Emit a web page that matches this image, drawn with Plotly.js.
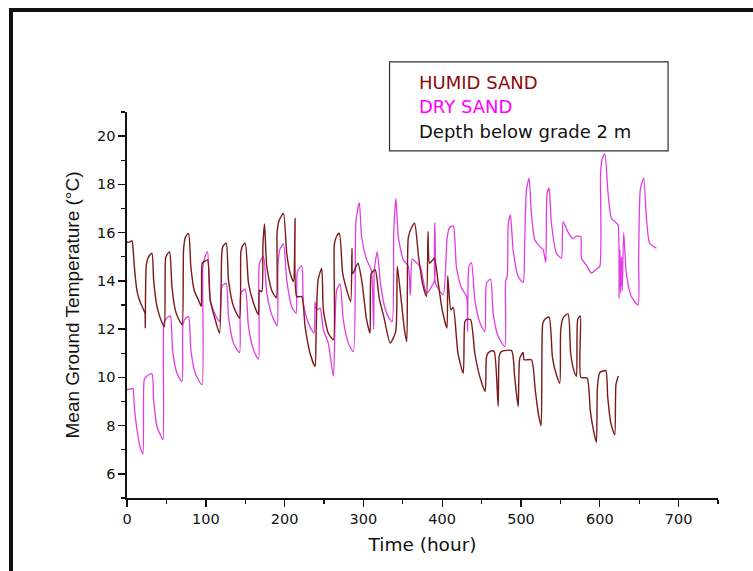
<!DOCTYPE html>
<html>
<head>
<meta charset="utf-8">
<script src="https://cdn.plot.ly/plotly-3.0.1.min.js"></script>
<style>
  html, body { margin: 0; padding: 0; background: #ffffff; width: 753px; height: 571px; overflow: hidden; }
  #frame { position: absolute; left: 9px; top: 8px; width: 800px; height: 620px;
           border-top: 4px solid #111; border-left: 4px solid #111; }
  #chart { position: absolute; left: 0; top: 0; width: 753px; height: 571px; }
</style>
</head>
<body>
<div id="frame"></div>
<div id="chart"></div>
<script>
// ---- Data ----
const humidTime = [0,4,6.3,8,9.3,12.6,16.9,21.1,22.8,23.2,
  24.5,27.4,31.6,33.8,38,42.2,46.4,47.5,
  49,51,54,57,61.2,65,68.4,70.1,
  71.8,74,78.1,81,85.3,90.8,94.2,
  95.4,98,102.2,105.6,111.9,117.4,
  120.4,122,125.9,128.8,135.2,142.8,
  144.5,146.5,150,154.2,160.5,166.8,
  168.1,171,172.5,174.5,177.4,183.7,189.5,
  190.5,193,198.5,202.7,207,211.2,
  213.3,215.4,221.7,226,232.3,238.6,
  239.9,242.5,247.1,249.2,255.5,261.9,
  263.1,266,269.5,273.7,278.8,283.8,
  285.5,286.5,293,298,304,308.4,
  310,315,320,326,334,341,
  343,347,352,355,
  357,361,365,370,375,380,
  382,384,390,395,400,406,
  407,411,414,420,426.7,
  428.7,431,436,441.4,448,454.5,
  456,458,462.5,466,471,
  472.5,475,488,492,496.4,
  498.5,502.7,504,513.2,518,522,525.5,
  527.5,530,535.6,540,545,549.2,
  550.5,554,559.7,563,567,570.3,
  572,575.3,576,583.8,588,592,595.6,
  597,600,607.5,610,614,618.9,
  620.5,623.5];
const humidTemp = [15.6,15.62,15.67,15.2,14.6,13.6,13.1,12.8,12.66,12.04,
  14.66,15.0,15.15,14.04,12.94,12.46,12.14,12.1,
  14.94,15.1,15.2,13.77,12.8,12.45,12.25,12.18,
  15.3,15.8,15.97,14.6,13.6,13.2,12.94,
  14.73,14.8,14.87,13.2,12.4,11.83,
  15.2,15.45,15.56,14.04,12.94,12.46,
  15.2,15.45,15.56,13.9,13.08,12.6,
  13.6,13.55,15.5,16.36,14.6,13.6,13.3,
  16.0,16.5,16.8,15.15,14.32,13.97,
  16.6,13.35,13.35,12.1,11.0,10.45,
  11.7,14.04,14.52,12.8,11.83,11.56,
  15.5,15.85,15.97,14.32,13.63,13.14,
  15.35,14.3,14.73,14.0,12.4,11.83,
  14.3,14.46,13.3,12.5,11.42,11.9,
  14.6,13.5,12.0,11.48,
  15.8,16.2,16.39,15.0,13.9,13.35,
  16.05,14.73,14.94,13.9,12.8,12.04,
  14.2,12.8,12.9,11.0,10.17,
  12.3,12.4,12.4,11.0,10.0,9.42,
  10.8,11.0,11.1,11.07,8.8,
  10.9,11.07,11.11,10.0,8.79,
  10.8,11.03,10.73,10.73,9.5,8.5,7.99,
  12.2,12.4,12.5,10.8,10.1,9.76,
  12.0,12.5,12.63,11.0,10.3,10.04,
  12.4,12.55,10.0,9.97,8.6,7.8,7.3,
  9.6,10.2,10.28,9.2,8.1,7.62,
  9.7,10.06];

const dryTime = [0,4,7.6,9,10.5,14.7,17.7,20.2,
  21.9,25,31.6,33.8,38,42.2,45.6,
  46.9,50,54.9,57.8,63.3,69.7,
  71,74,78.1,81,86.6,95,
  96.3,99,102.2,105.6,111.9,117.4,
  120.4,125.9,128.8,135.2,142.8,
  144.5,150,154.2,160.5,166.8,
  168.1,173.2,177.4,183.7,190.5,
  191.5,194,198.5,202.7,209,214.6,
  216.3,221.7,223.9,230.2,237.4,
  238.6,240.7,245,249.2,255.5,261.9,
  266,270.3,274.5,280.9,287.2,
  290.6,294.8,297.8,304.1,310,313,314,317.6,322,328,331.6,336.5,
  338.5,341.3,344.3,350.6,357,359.5,362,366,372,380.2,
  390,390.7,391.5,401.3,
  406,409,414,418,424.5,431,432.2,
  434,437.2,441.4,448,454.1,
  456.2,461.3,464.7,471,479.4,
  480.5,482.5,484,486.6,490,496.4,502.7,
  504.5,507,510.3,513.2,517.5,523.8,528,531.4,
  533,535.6,538.6,545,551.3,
  553.4,560,566,570,575.8,576.7,583,589.4,596,600,
  601,603.5,606.3,610.5,614.7,621,623.2,
  624.5,625.5,626.5,627.5,628.5,630.3,633.7,640,648.5,
  649.3,651.5,655.7,659,663.3,671.8];
const dryTemp = [9.49,9.52,9.53,8.9,8.39,7.42,7.0,6.83,
  9.9,10.05,10.15,9.08,7.97,7.63,7.42,
  12.25,12.45,12.55,11.14,10.18,9.83,
  12.2,12.45,12.52,11.14,10.18,9.7,
  14.6,15.0,15.2,13.2,12.6,12.32,
  13.77,13.9,12.52,11.42,11.03,
  13.5,13.66,12.1,11.14,10.76,
  14.73,15.0,13.5,12.6,12.14,
  14.6,15.3,15.53,14.04,12.94,12.66,
  14.4,14.62,13.07,12.25,11.83,
  13.14,12.8,12.87,11.97,11.42,10.04,
  13.6,13.87,12.38,11.42,11.07,
  16.5,17.24,15.83,14.87,14.45,12.0,14.5,15.2,13.8,12.8,12.52,12.3,
  16.0,17.42,15.83,14.87,14.6,13.4,14.9,14.8,14.6,13.49,
  14.0,16.39,13.9,13.42,
  15.7,16.2,16.28,14.6,13.7,13.35,11.9,
  14.6,14.76,13.2,12.25,11.9,
  13.9,14.07,12.65,11.7,11.28,
  14.0,14.2,16.4,16.73,15.29,14.18,13.93,
  15.35,17.8,18.25,16.8,15.7,15.42,15.3,14.76,
  17.6,17.84,16.39,15.15,14.94,
  16.46,16.0,15.75,15.85,15.84,14.94,14.65,14.32,14.5,14.6,
  18.5,19.1,19.26,17.63,16.6,16.4,16.32,
  13.28,15.3,13.5,15.0,13.6,16.0,14.32,13.35,13.0,
  14.87,17.8,18.25,16.67,15.56,15.35];

const seriesNames = ["HUMID SAND", "DRY SAND"];
const noteText = "Depth below grade 2 m";
const xTitle = "Time (hour)";
const yTitle = "Mean Ground Temperature (°C)";

// ---- Layout geometry (pixels) ----
const W = 753, H = 571;
const L = 126.7, R = 718.3, T = 111.7, B = 498.3;
const px = v => (v - L) / (R - L);
const py = v => (B - v) / (B - T);

const FONT = "DejaVu Sans, Arial, sans-serif";

const traces = [
  { x: dryTime, y: dryTemp, type: "scatter", mode: "lines", name: seriesNames[1],
    line: { color: "#e23be2", width: 1.3, shape: "spline", smoothing: 0.6 }, showlegend: false, hoverinfo: "skip" },
  { x: humidTime, y: humidTemp, type: "scatter", mode: "lines", name: seriesNames[0],
    line: { color: "#7a1a1a", width: 1.4, shape: "spline", smoothing: 0.6 }, showlegend: false, hoverinfo: "skip" }
];

const layout = {
  width: W, height: H,
  margin: { l: L, r: W - R, t: T, b: H - B, pad: 0 },
  paper_bgcolor: "rgba(0,0,0,0)",
  plot_bgcolor: "rgba(0,0,0,0)",
  showlegend: false,
  font: { family: FONT, color: "#111" },
  xaxis: {
    range: [0, 750], dtick: 100, tick0: 0,
    showgrid: false, zeroline: false,
    showline: true, linecolor: "#111", linewidth: 1.6,
    ticks: "outside", ticklen: 7, tickwidth: 1.4, tickcolor: "#111",
    minor: { dtick: 50, ticks: "outside", ticklen: 4, tickwidth: 1.2, tickcolor: "#111" },
    tickfont: { family: FONT, size: 14.5, color: "#111" },
    title: { text: xTitle, font: { family: FONT, size: 18.5, color: "#111" }, standoff: 12 },
    automargin: false
  },
  yaxis: {
    range: [5, 21], dtick: 2, tick0: 0,
    showgrid: false, zeroline: false,
    showline: true, linecolor: "#111", linewidth: 1.6,
    ticks: "outside", ticklen: 7, tickwidth: 1.4, tickcolor: "#111",
    minor: { dtick: 1, ticks: "outside", ticklen: 4, tickwidth: 1.2, tickcolor: "#111" },
    tickfont: { family: FONT, size: 14.5, color: "#111" },
    title: { text: yTitle, font: { family: "Liberation Sans, Arial, sans-serif", size: 19, color: "#111" }, standoff: 12 },
    automargin: false
  },
  shapes: [
    { type: "rect", xref: "paper", yref: "paper",
      x0: px(389.5), x1: px(668.3), y0: py(150.7), y1: py(61.5),
      line: { color: "#333", width: 1.2 }, fillcolor: "#ffffff", layer: "above" }
  ],
  annotations: [
    { xref: "paper", yref: "paper", x: px(417), y: py(82), xanchor: "left", yanchor: "middle",
      text: seriesNames[0], showarrow: false, font: { family: FONT, size: 18, color: "#8b0a0a" } },
    { xref: "paper", yref: "paper", x: px(417), y: py(106), xanchor: "left", yanchor: "middle",
      text: seriesNames[1], showarrow: false, font: { family: FONT, size: 18, color: "#ff00ff" } },
    { xref: "paper", yref: "paper", x: px(417), y: py(131), xanchor: "left", yanchor: "middle",
      text: noteText, showarrow: false, font: { family: FONT, size: 18, color: "#111" } }
  ]
};

Plotly.newPlot("chart", traces, layout, { staticPlot: true, displayModeBar: false });
</script>
</body>
</html>
